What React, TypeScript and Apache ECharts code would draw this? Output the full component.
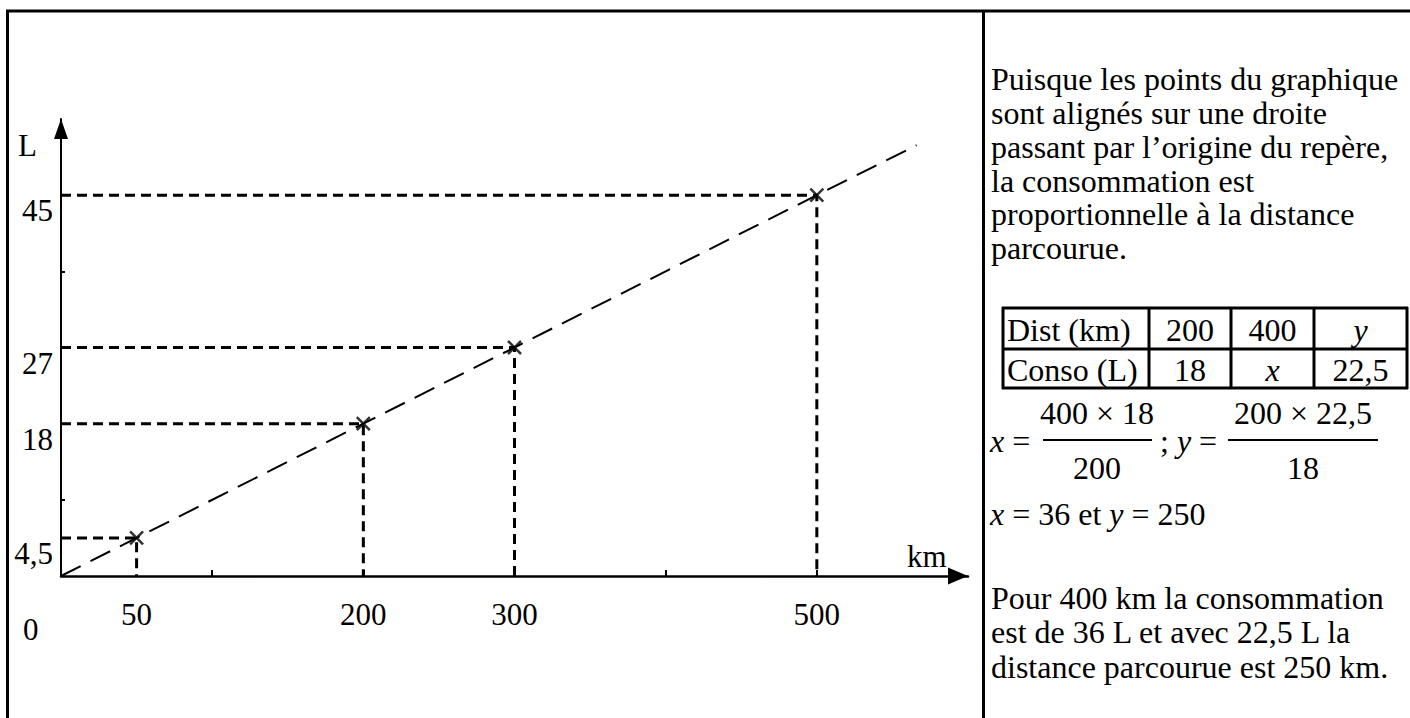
import React, { useEffect, useRef } from "react";
import * as echarts from "echarts";

const distances = [50, 200, 300, 500];
const consumptions = [4.5, 18, 27, 45];
const lineStart = [0, 0];
const lineEnd = [566, 50.9];
const xTickValues = [100, 200, 300, 400, 500];
const yTickValues = [9, 18, 27, 36, 45];
const xLabelValues = [50, 200, 300, 500];
const yLabelValues = [4.5, 18, 27, 45];

const paragraph1 = [
  "Puisque les points du graphique",
  "sont alignés sur une droite",
  "passant par l’origine du repère,",
  "la consommation est",
  "proportionnelle à la distance",
  "parcourue.",
];
const tableRow1 = ["Dist (km)", "200", "400", "y"];
const tableRow2 = ["Conso (L)", "18", "x", "22,5"];
const paragraph2 = [
  "Pour 400 km la consommation",
  "est de 36 L et avec 22,5 L la",
  "distance parcourue est 250 km.",
];

const FONT = '"Liberation Serif", "Times New Roman", serif';
const FS = 31;
const PFS = 32;

function txt(text: string, x: number, y: number, align = "left", extra: any = {}) {
  return {
    type: "text",
    x,
    y,
    silent: true,
    style: {
      text,
      fill: "#000",
      fontFamily: FONT,
      fontSize: FS,
      align,
      verticalAlign: "middle",
      ...extra,
    },
  };
}

function ptxt(text: string, x: number, y: number, align = "left", extra: any = {}) {
  return txt(text, x, y, align, { fontSize: PFS, ...extra });
}

function richTxt(text: string, x: number, y: number, align = "left") {
  return ptxt(text, x, y, align, {
    rich: {
      i: { fontStyle: "italic", fontFamily: FONT, fontSize: PFS, fill: "#000" },
    },
  });
}

function ln(x1: number, y1: number, x2: number, y2: number, w: number) {
  return {
    type: "line",
    silent: true,
    shape: { x1, y1, x2, y2 },
    style: { stroke: "#000", lineWidth: w },
  };
}

export default function App() {
  const ref = useRef<HTMLDivElement>(null);
  useEffect(() => {
    if (!ref.current) return;
    const chart = echarts.init(ref.current, null, { renderer: "svg" });

    const guideSeries = distances.map((d, i) => ({
      type: "line",
      silent: true,
      symbol: "none",
      data: [
        [0, consumptions[i]],
        [d, consumptions[i]],
        [d, 0],
      ],
      lineStyle: { color: "#000", width: 3, type: [10, 6] },
      z: 2,
    }));

    const graphic: any[] = [];
    // frame
    graphic.push(ln(7.5, 10, 7.5, 718, 3));
    graphic.push(ln(6, 11, 1410, 11, 3));
    graphic.push(ln(983.5, 10, 983.5, 718, 3));
    // axis texts
    graphic.push(txt("L", 18, 145));
    graphic.push(txt("km", 907, 556));
    graphic.push(txt("0", 23, 629));
    // paragraph 1
    const p1y = [79, 113, 147, 181, 214, 248];
    paragraph1.forEach((s, i) => graphic.push(ptxt(s, 991, p1y[i])));
    // table
    const tx = [1003, 1149, 1231, 1314, 1407];
    const ty = [308, 349, 388];
    ty.forEach((y) => graphic.push(ln(1002, y, 1408, y, 3)));
    tx.forEach((x) => graphic.push(ln(x, 307, x, 389, 3)));
    const rows = [tableRow1, tableRow2];
    rows.forEach((row, r) => {
      const cy = (ty[r] + ty[r + 1]) / 2 + 1;
      row.forEach((cell, c) => {
        const italic = cell === "x" || cell === "y";
        if (c === 0) {
          graphic.push(ptxt(cell, 1007, cy));
        } else {
          graphic.push(
            ptxt(cell, (tx[c] + tx[c + 1]) / 2, cy, "center", italic ? { fontStyle: "italic" } : {})
          );
        }
      });
    });
    // formula
    graphic.push(richTxt("{i|x} =", 990, 441));
    graphic.push(ptxt("400 × 18", 1097, 413, "center"));
    graphic.push(ln(1043, 440, 1152, 440, 2));
    graphic.push(ptxt("200", 1097, 468, "center"));
    graphic.push(richTxt("; {i|y} =", 1160, 441));
    graphic.push(ptxt("200 × 22,5", 1303, 413, "center"));
    graphic.push(ln(1228, 440, 1378, 440, 2));
    graphic.push(ptxt("18", 1303, 468, "center"));
    graphic.push(richTxt("{i|x} = 36 et {i|y} = 250", 990, 514));
    // paragraph 2
    const p2y = [598, 632, 667];
    paragraph2.forEach((s, i) => graphic.push(ptxt(s, 991, p2y[i])));

    const option: any = {
      animation: false,
      backgroundColor: "#fff",
      grid: { left: 61, right: 442, top: 119, bottom: 142 },
      xAxis: {
        type: "value",
        min: 0,
        max: 600,
        splitLine: { show: false },
        axisLine: {
          onZero: false,
          lineStyle: { color: "#000", width: 2.5 },
          symbol: ["none", "triangle"],
          symbolSize: [17, 20],
          symbolOffset: [0, -10],
        },
        axisTick: {
          customValues: xTickValues,
          inside: true,
          length: 6,
          lineStyle: { color: "#000", width: 2 },
        },
        axisLabel: {
          customValues: xLabelValues,
          margin: 23,
          color: "#000",
          fontFamily: FONT,
          fontSize: FS,
        },
      },
      yAxis: {
        type: "value",
        min: 0,
        max: 54,
        splitLine: { show: false },
        axisLine: {
          onZero: false,
          lineStyle: { color: "#000", width: 2 },
          symbol: ["none", "triangle"],
          symbolSize: [14, 20],
          symbolOffset: [0, -10],
        },
        axisTick: {
          customValues: yTickValues,
          inside: true,
          length: 4,
          lineStyle: { color: "#000", width: 2 },
        },
        axisLabel: {
          customValues: yLabelValues,
          margin: 8,
          color: "#000",
          fontFamily: FONT,
          fontSize: FS,
          verticalAlign: "top",
          formatter: (v: number) => String(v).replace(".", ","),
        },
      },
      series: [
        ...guideSeries,
        {
          type: "line",
          silent: true,
          symbol: "none",
          data: [lineStart, ...distances.map((d, i) => [d, consumptions[i]]), lineEnd],
          lineStyle: { color: "#000", width: 2, type: [22, 11] },
          z: 3,
        },
        {
          type: "scatter",
          silent: true,
          symbol: "path://M0,0L10,10M10,0L0,10",
          symbolSize: 13,
          data: distances.map((d, i) => [d, consumptions[i]]),
          itemStyle: { color: "none", borderColor: "#000", borderWidth: 2.5 },
          z: 4,
        },
      ],
      graphic,
    };
    chart.setOption(option);
    return () => chart.dispose();
  }, []);
  return (
    <div
      ref={ref}
      style={{ position: "fixed", left: 0, top: 0, width: 1410, height: 718 }}
    />
  );
}
